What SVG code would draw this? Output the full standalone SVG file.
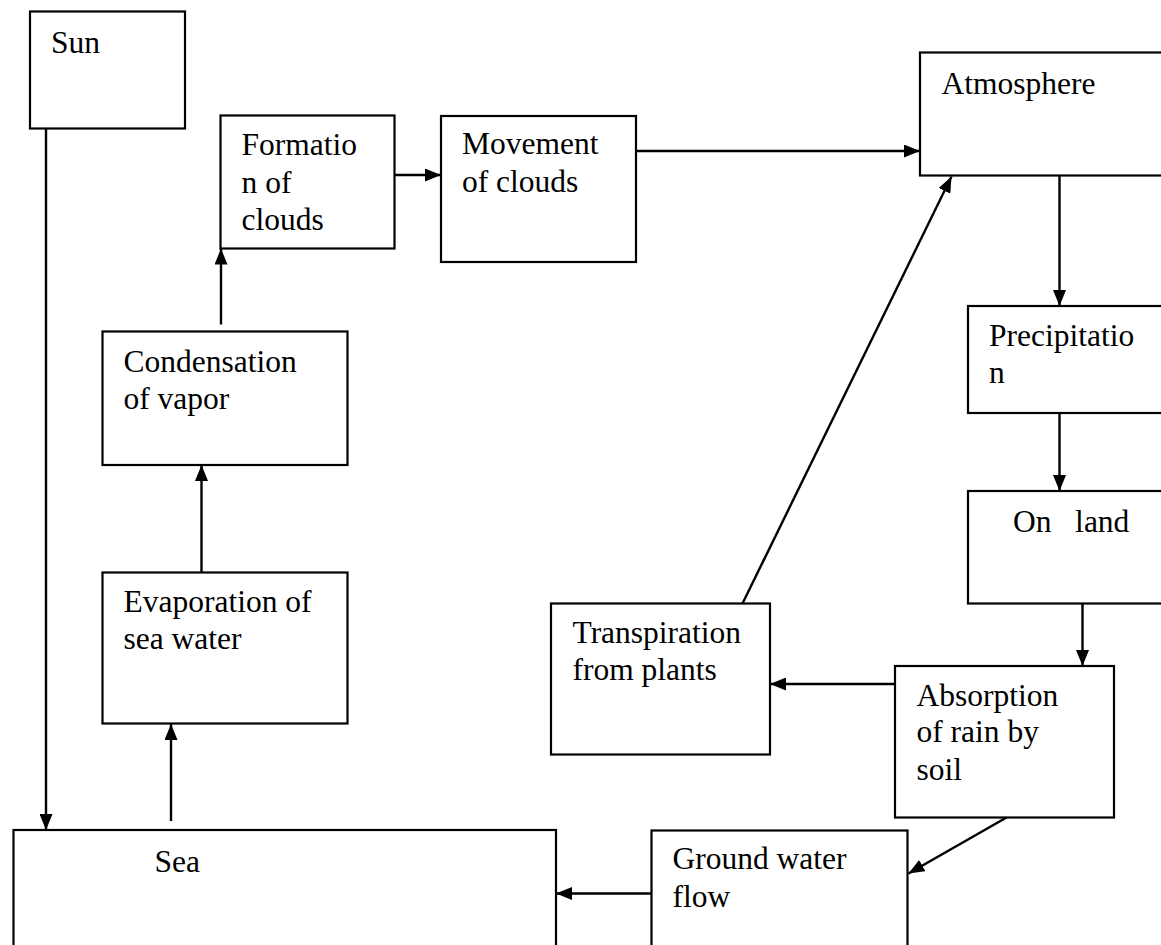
<svg xmlns="http://www.w3.org/2000/svg" width="1161" height="945" viewBox="0 0 1161 945">
  <style>
    .box { fill: #ffffff; stroke: #000000; stroke-width: 2.2; }
    .lbl { font-family: "Liberation Serif", "DejaVu Serif", serif; font-size: 31.5px; fill: #000000; }
    .edge { stroke: #000000; stroke-width: 2.4; fill: none; }
    .arr { marker-end: url(#head); }
  </style>
  <defs>
    <marker id="head" viewBox="0 0 16 13" refX="16" refY="6.5" markerWidth="16" markerHeight="13" markerUnits="userSpaceOnUse" orient="auto">
      <path d="M0,0 L16,6.5 L0,13 Z" fill="#000000"/>
    </marker>
  </defs>
  <rect width="1161" height="945" fill="#ffffff"/>

  <!-- nodes -->
  <g id="sun">
    <rect class="box" x="30" y="11.5" width="155" height="117"/>
    <text class="lbl" font-family="Liberation Serif, serif" x="51" y="53">Sun</text>
  </g>
  <g id="formation">
    <rect class="box" x="220.5" y="115.5" width="174" height="133"/>
    <text class="lbl" x="241.5" y="155">Formatio</text>
    <text class="lbl" x="241.5" y="192.5">n of</text>
    <text class="lbl" x="241.5" y="229.5">clouds</text>
  </g>
  <g id="movement">
    <rect class="box" x="441" y="116" width="195" height="146"/>
    <text class="lbl" x="462" y="154">Movement</text>
    <text class="lbl" x="462" y="192">of clouds</text>
  </g>
  <g id="atmosphere">
    <rect class="box" x="920" y="52.5" width="250" height="123"/>
    <text class="lbl" x="941.5" y="94">Atmosphere</text>
  </g>
  <g id="condensation">
    <rect class="box" x="102.5" y="331.5" width="245" height="133.5"/>
    <text class="lbl" x="123.5" y="371.5">Condensation</text>
    <text class="lbl" x="123.5" y="409">of vapor</text>
  </g>
  <g id="precipitation">
    <rect class="box" x="968" y="306" width="202" height="107"/>
    <text class="lbl" x="989" y="345.5">Precipitatio</text>
    <text class="lbl" x="989" y="383">n</text>
  </g>
  <g id="on-land">
    <rect class="box" x="968" y="491" width="202" height="112.5"/>
    <text class="lbl" x="1013" y="532" xml:space="preserve">On   land</text>
  </g>
  <g id="evaporation">
    <rect class="box" x="102.5" y="572.5" width="245" height="151"/>
    <text class="lbl" x="123.5" y="611.5">Evaporation of</text>
    <text class="lbl" x="123.5" y="649">sea water</text>
  </g>
  <g id="transpiration">
    <rect class="box" x="551" y="603.5" width="219" height="151"/>
    <text class="lbl" x="572.5" y="642.5">Transpiration</text>
    <text class="lbl" x="572.5" y="680">from plants</text>
  </g>
  <g id="absorption">
    <rect class="box" x="895" y="666" width="219" height="151.5"/>
    <text class="lbl" x="916.5" y="705.5">Absorption</text>
    <text class="lbl" x="916.5" y="742">of rain by</text>
    <text class="lbl" x="916.5" y="780">soil</text>
  </g>
  <g id="sea">
    <rect class="box" x="13.5" y="830" width="542.5" height="130"/>
    <text class="lbl" x="154.5" y="871.5">Sea</text>
  </g>
  <g id="ground-water">
    <rect class="box" x="651.5" y="830.5" width="256" height="130"/>
    <text class="lbl" x="672.5" y="869">Ground water</text>
    <text class="lbl" x="672.5" y="907">flow</text>
  </g>

  <!-- connectors -->
  <g id="connectors">
    <line class="edge arr" x1="46" y1="128.5" x2="46" y2="830"/>
    <line class="edge arr" x1="171" y1="821" x2="171" y2="724"/>
    <line class="edge arr" x1="201.5" y1="572.5" x2="201.5" y2="465"/>
    <line class="edge arr" x1="221" y1="324.5" x2="221" y2="248.5"/>
    <line class="edge arr" x1="394.5" y1="175" x2="441" y2="175"/>
    <line class="edge arr" x1="636" y1="151" x2="920" y2="151"/>
    <line class="edge arr" x1="1059.5" y1="175.5" x2="1059.5" y2="306"/>
    <line class="edge arr" x1="1059.5" y1="413" x2="1059.5" y2="491"/>
    <line class="edge arr" x1="1082.5" y1="603.5" x2="1082.5" y2="666"/>
    <line class="edge arr" x1="895" y1="684" x2="770" y2="684"/>
    <line class="edge arr" x1="742.5" y1="603.5" x2="951.5" y2="176.5"/>
    <line class="edge arr" x1="1006.5" y1="817.5" x2="908.5" y2="873.5"/>
    <line class="edge arr" x1="651.5" y1="893.5" x2="556" y2="893.5"/>
  </g>
</svg>
